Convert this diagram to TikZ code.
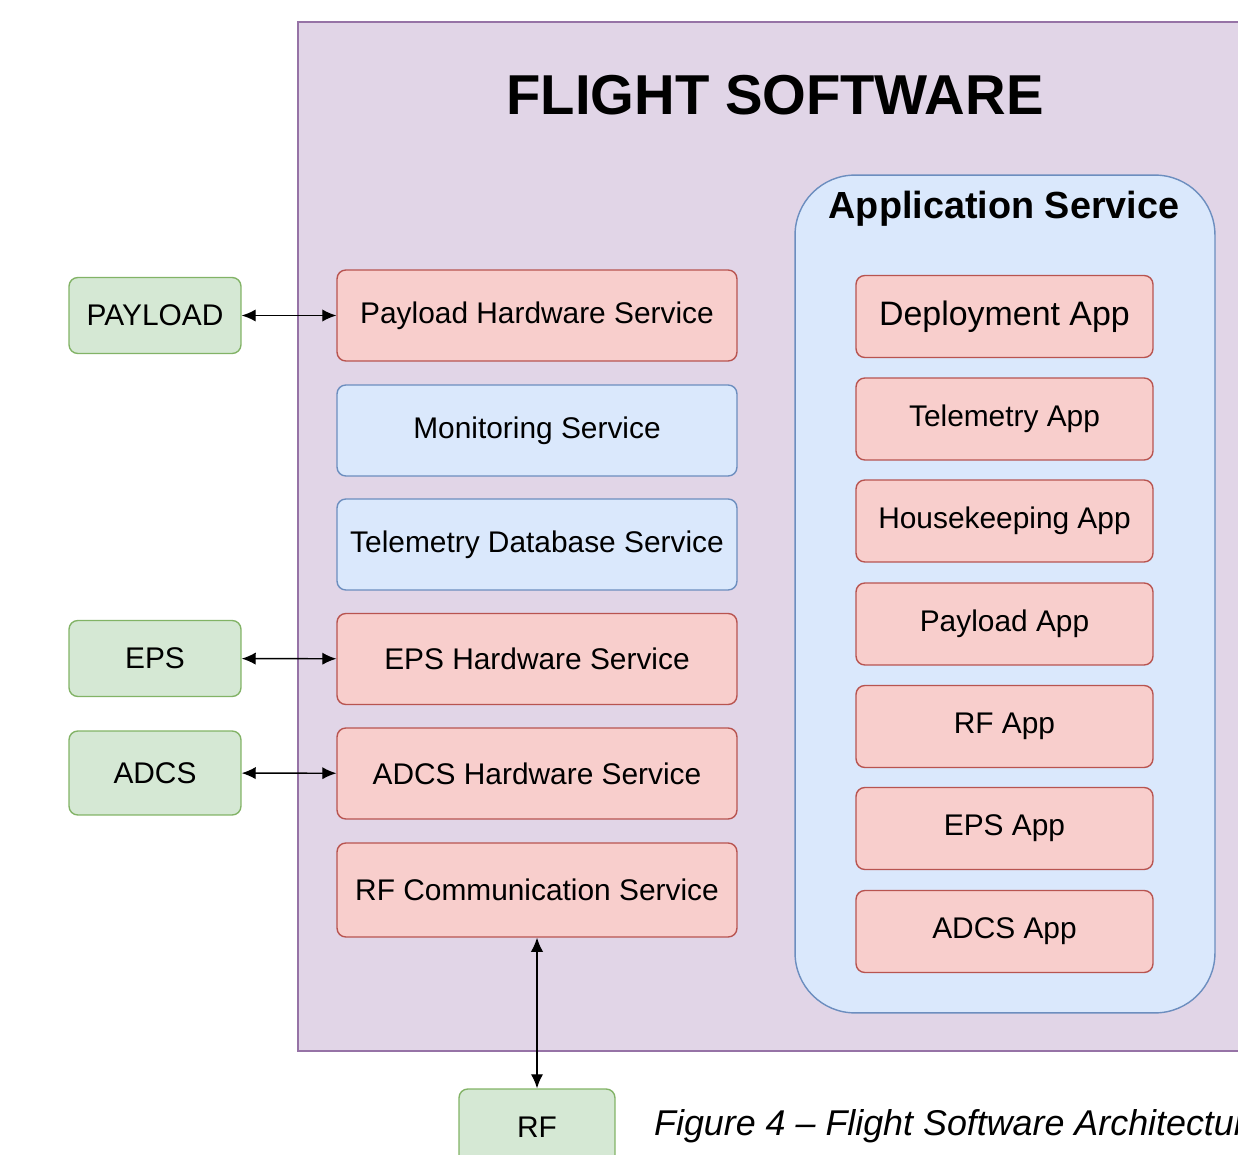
\documentclass[tikz,border=0pt]{standalone}
\usepackage{fontspec}
\setmainfont{Liberation Sans}
\usepackage{tikz}
\usetikzlibrary{arrows.meta}
\tikzset{>={Latex[length=8pt, width=7pt]}}
\definecolor{purplefill}{HTML}{E1D5E7}
\definecolor{purpleline}{HTML}{9673A6}
\definecolor{bluefill}{HTML}{DAE8FC}
\definecolor{blueline}{HTML}{6C8EBF}
\definecolor{redfill}{HTML}{F8CECC}
\definecolor{redline}{HTML}{B85450}
\definecolor{greenfill}{HTML}{D5E8D4}
\definecolor{greenline}{HTML}{82B366}
\tikzset{
    box/.style={draw, line width=0.8pt, rounded corners=5pt, inner sep=2pt, align=center,
        font=\fontsize{17}{20}\selectfont},
    hwsvc/.style={box, fill=redfill, draw=redline, minimum width=8cm, minimum height=1.82cm},
    swsvc/.style={box, fill=bluefill, draw=blueline, minimum width=8cm, minimum height=1.82cm},
    appbox/.style={box, fill=redfill, draw=redline, minimum width=5.94cm, minimum height=1.64cm},
    extbox/.style={box, fill=greenfill, draw=greenline, minimum width=3.44cm, minimum height=1.52cm},
    link/.style={line width=0.8pt, <->},
}

\begin{document}
\begin{tikzpicture}[x=0.02cm, y=-0.02cm]
    \useasboundingbox (0, 0) rectangle (1238, 1155);
    \clip (0, 0) rectangle (1238, 1155);
    % flight software frame
    \draw[fill=purplefill, draw=purpleline, line width=0.8pt](298, 22) rectangle (1290, 1051);
    \node[font=\fontsize{32}{36}\selectfont\bfseries](title) at (775, 95){FLIGHT SOFTWARE};
    % application service
    \node[draw=blueline, fill=bluefill, line width=0.8pt, rounded corners=1.2cm,
        minimum width=8.4cm, minimum height=16.76cm](appsvc) at (1005, 594){};
    \node[font=\fontsize{21.5}{24}\selectfont\bfseries](apptitle) at (1004, 209){Application Service};
    \node[appbox, font=\fontsize{19.3}{22}\selectfont](deploy) at (1004.5, 316.5){Deployment App};
    \node[appbox](telemapp) at (1004.5, 419){Telemetry App};
    \node[appbox](hkapp) at (1004.5, 521){Housekeeping App};
    \node[appbox](payloadapp) at (1004.5, 624){Payload App};
    \node[appbox](rfapp) at (1004.5, 726.5){RF App};
    \node[appbox](epsapp) at (1004.5, 828.5){EPS App};
    \node[appbox](adcsapp) at (1004.5, 931.5){ADCS App};
    % services
    \node[hwsvc](payloadhw) at (537, 315.5){Payload Hardware Service};
    \node[swsvc](monitor) at (537, 430.5){Monitoring Service};
    \node[swsvc](telemdb) at (537, 544.5){Telemetry Database Service};
    \node[hwsvc](epshw) at (537, 659){EPS Hardware Service};
    \node[hwsvc](adcshw) at (537, 773.5){ADCS Hardware Service};
    \node[hwsvc, minimum height=1.88cm](rfcomm) at (537, 890){RF Communication Service};
    % external hardware
    \node[extbox](payload) at (155, 315.5){PAYLOAD};
    \node[extbox](eps) at (155, 658.5){EPS};
    \node[extbox, minimum height=1.68cm](adcs) at (155, 773){ADCS};
    \node[extbox, minimum width=3.12cm](rf) at (537, 1127){RF};
    \draw[link](payload)--(payloadhw);
    \draw[link](eps)--(epshw);
    \draw[link](adcs)--(adcshw);
    \draw[link](rfcomm)--(rf);
    \node[anchor=west, font=\fontsize{20.4}{24}\selectfont\itshape](caption) at (648, 1126){Figure 4 – Flight Software Architecture};
\end{tikzpicture}
\end{document}
